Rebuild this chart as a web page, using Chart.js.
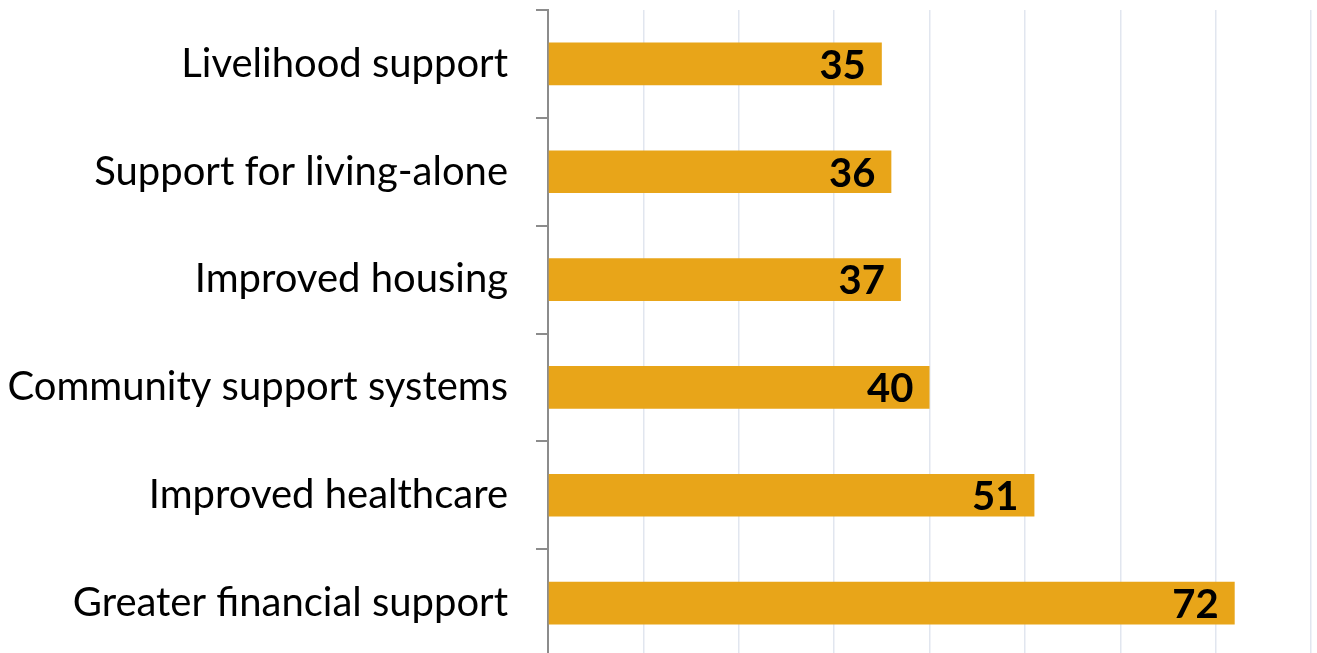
<!DOCTYPE html>
<html lang="en">
<head>
  <meta charset="UTF-8">
  <title>Support priorities</title>
  <script src="https://cdn.jsdelivr.net/npm/chart.js"></script>
  <style>
    html, body {
      margin: 0;
      padding: 0;
      background: #ffffff;
      overflow: hidden;
    }
    .chart-box {
      width: 1317px;
      height: 657px;
    }
  </style>
</head>
<body>
  <div class="chart-box">
    <canvas id="barChart"></canvas>
  </div>

  <script>
    const categories = [
      'Livelihood support',
      'Support for living-alone',
      'Improved housing',
      'Community support systems',
      'Improved healthcare',
      'Greater financial support'
    ];
    const counts = [35, 36, 37, 40, 51, 72];
    const axisMax = 80;
    const axisStep = 10;

    // value labels, right aligned inside the end of each bar
    const barLabels = {
      id: 'barLabels',
      afterDatasetsDraw(chart) {
        const ctx = chart.ctx;
        const meta = chart.getDatasetMeta(0);
        ctx.save();
        ctx.font = 'bold 40px Lato';
        ctx.fillStyle = '#000000';
        ctx.textAlign = 'right';
        ctx.textBaseline = 'middle';
        meta.data.forEach((bar, i) => {
          ctx.fillText(String(counts[i]), bar.x - 16, bar.y + 2);
        });
        ctx.restore();
      }
    };

    new Chart(document.getElementById('barChart').getContext('2d'), {
      type: 'bar',
      data: {
        labels: categories,
        datasets: [{
          data: counts,
          backgroundColor: '#E8A519',
          borderWidth: 0,
          barPercentage: 1,
          categoryPercentage: 0.395
        }]
      },
      options: {
        indexAxis: 'y',
        responsive: true,
        maintainAspectRatio: false,
        animation: false,
        layout: { padding: { top: 10, right: 6, left: 0, bottom: 0 } },
        plugins: {
          legend: { display: false },
          tooltip: { enabled: false }
        },
        scales: {
          x: {
            min: 0,
            max: axisMax,
            ticks: { display: false, stepSize: axisStep },
            grid: { color: '#E1E6EF', lineWidth: 1.5, drawTicks: false },
            border: { display: false },
            afterFit(scale) {
              scale.height = 0;
              scale.paddingLeft = 0;
              scale.paddingRight = 0;
            }
          },
          y: {
            offset: true,
            grid: {
              drawOnChartArea: false,
              drawTicks: true,
              tickLength: 12,
              color: '#8C8C8C',
              lineWidth: 2
            },
            border: { display: true, color: '#8C8C8C', width: 2 },
            ticks: {
              color: '#000000',
              padding: 28,
              font: { family: 'Lato', size: 40 }
            },
            afterFit(scale) {
              scale.width = 548;
              scale.paddingTop = 0;
              scale.paddingBottom = 0;
            }
          }
        }
      },
      plugins: [barLabels]
    });
  </script>
</body>
</html>
